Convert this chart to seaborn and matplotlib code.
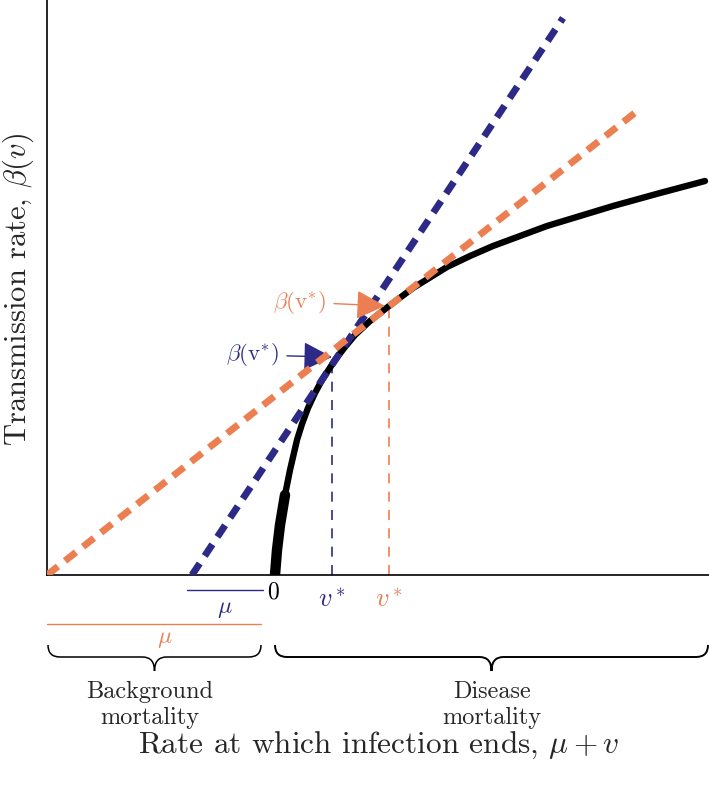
import numpy as np
import pandas as pd
import matplotlib
matplotlib.use("Agg")
import matplotlib.pyplot as plt
from matplotlib.path import Path
from matplotlib.patches import PathPatch
import seaborn as sns

# transmission curve beta(v)
v_curve = [0, 0.02, 0.05, 0.10, 0.15, 0.22, 0.27, 0.33, 0.40, 0.47, 0.60,
           0.70, 0.80, 0.95, 1.14, 1.38, 1.72, 1.95, 2.18, 2.72, 3.38, 3.85, 4.30]
beta_curve = [0, 0.25, 0.50, 0.80, 1.05, 1.35, 1.51, 1.67, 1.82, 1.95, 2.15,
              2.28, 2.40, 2.54, 2.69, 2.87, 3.08, 3.19, 3.29, 3.49, 3.69, 3.82, 3.94]
thick_end = 3  # first few points drawn heavier

# tangent lines (start on the x axis at -mu, end at top right)
blue_x = [-0.83, 2.88]
blue_y = [0.0, 5.57]
orange_x = [-2.28, 3.61]
orange_y = [0.0, 4.63]

# optimal virulence for each background mortality
vstar_blue, bstar_blue = 0.57, 2.14
vstar_orange, bstar_orange = 1.14, 2.69
mu_blue = 0.83
mu_orange = 2.28

BLUE = "#2d2a87"
ORANGE = "#ec7f52"

sns.set_style("white")
plt.rcParams["font.family"] = ["cmr10", "DejaVu Serif"]
plt.rcParams["mathtext.fontset"] = "cm"
plt.rcParams["axes.unicode_minus"] = False

fig = plt.figure(figsize=(7.09, 7.86), dpi=100)
ax = fig.add_axes([47 / 709, 211 / 786, 662 / 709, 575 / 786])

curve = pd.DataFrame({"v": v_curve, "beta": beta_curve})
sns.lineplot(data=curve.iloc[thick_end:], x="v", y="beta", color="black",
             lw=4.6, sort=False, ax=ax, zorder=2)
sns.lineplot(data=curve.iloc[:thick_end + 1], x="v", y="beta", color="black",
             lw=7.5, sort=False, ax=ax, zorder=2)

sns.lineplot(x=blue_x, y=blue_y, color=BLUE, lw=5, linestyle=(0, (2.0, 1.3)),
             ax=ax, zorder=3)
sns.lineplot(x=orange_x, y=orange_y, color=ORANGE, lw=5, linestyle=(0, (2.0, 1.3)),
             ax=ax, zorder=4)

ax.plot([vstar_blue, vstar_blue], [0, bstar_blue], color=BLUE, lw=1.2,
        linestyle=(0, (6, 5)), zorder=1)
ax.plot([vstar_orange, vstar_orange], [0, bstar_orange], color=ORANGE, lw=1.2,
        linestyle=(0, (6, 5)), zorder=1)

ax.set_xlim(-2.28, 4.34)
ax.set_ylim(0, 5.75)
ax.set_xticks([])
ax.set_yticks([])
ax.set_xlabel("")
ax.set_ylabel("")
sns.despine(ax=ax)
for s in ["left", "bottom"]:
    ax.spines[s].set_color("black")
    ax.spines[s].set_linewidth(1.2)

# arrows to tangent points
arrow = "-|>,head_length=1.1,head_width=0.55"
ax.annotate(r"$\beta(\mathrm{v}^{*})$", xy=(1.10, 2.69), xytext=(0.25, 2.73),
            color=ORANGE, fontsize=16.5, ha="center", va="center",
            arrowprops=dict(arrowstyle=arrow, color=ORANGE, lw=1.0,
                            shrinkA=3, shrinkB=0))
ax.annotate(r"$\beta(\mathrm{v}^{*})$", xy=(0.57, 2.18), xytext=(-0.22, 2.20),
            color=BLUE, fontsize=16.5, ha="center", va="center",
            arrowprops=dict(arrowstyle=arrow, color=BLUE, lw=1.0,
                            shrinkA=3, shrinkB=0))

# labels below the axis
kw = dict(ha="center", va="center", clip_on=False)
ax.text(-0.02, -0.17, "0", fontsize=17, color="black", **kw)
ax.text(vstar_blue, -0.25, r"$v^*$", fontsize=19, color=BLUE, **kw)
ax.text(vstar_orange, -0.25, r"$v^*$", fontsize=19, color=ORANGE, **kw)

ax.plot([-mu_blue - 0.05, -0.12], [-0.15, -0.15], color=BLUE, lw=1.0, clip_on=False)
ax.text(-0.50, -0.34, r"$\mu$", fontsize=17, color=BLUE, **kw)
ax.plot([-mu_orange, -0.14], [-0.49, -0.49], color=ORANGE, lw=1.0, clip_on=False)
ax.text(-1.10, -0.64, r"$\mu$", fontsize=17, color=ORANGE, **kw)


def brace(x0, x1, lw):
    xm = (x0 + x1) / 2
    yt, ym, yb = -0.70, -0.82, -0.96
    r = 0.12
    verts = [(x0, yt), (x0, ym), (x0 + r, ym), (xm - r, ym), (xm, ym), (xm, yb),
             (xm, ym), (xm + r, ym), (x1 - r, ym), (x1, ym), (x1, yt)]
    codes = [Path.MOVETO, Path.CURVE3, Path.CURVE3, Path.LINETO, Path.CURVE3,
             Path.CURVE3, Path.CURVE3, Path.CURVE3, Path.LINETO, Path.CURVE3,
             Path.CURVE3]
    ax.add_patch(PathPatch(Path(verts, codes), fill=False, lw=lw,
                           color="black", clip_on=False))


brace(-2.27, -0.14, 1.1)
brace(0.0, 4.33, 1.4)

ax.text(-1.25, -1.30, "Background\nmortality", fontsize=17.5, linespacing=1.2, **kw)
ax.text(2.17, -1.30, "Disease\nmortality", fontsize=17.5, linespacing=1.2, **kw)

fig.text(379 / 709, 1 - 745 / 786, r"Rate at which infection ends, $\mu + v$",
         fontsize=22.5, ha="center", va="center")
fig.text(18 / 709, 1 - 289 / 786, r"Transmission rate, $\beta(v)$", fontsize=22,
         ha="center", va="center", rotation=90)

fig.savefig("out.png", dpi=100)
